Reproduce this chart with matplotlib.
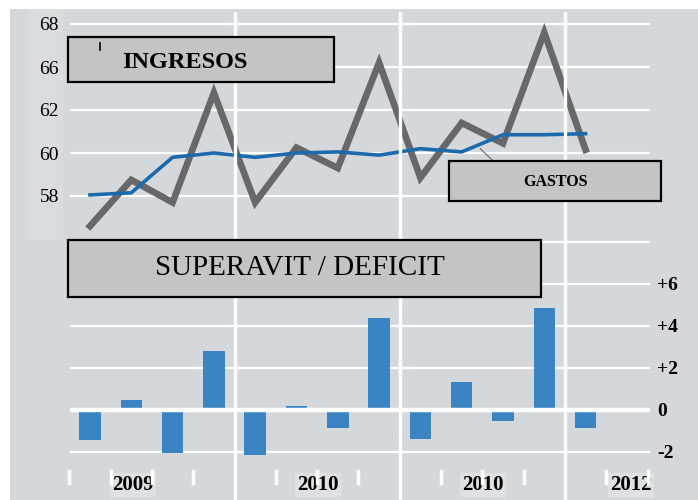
import numpy as np
import matplotlib
matplotlib.use("Agg")
import matplotlib.pyplot as plt
from matplotlib.patches import Rectangle
from matplotlib.lines import Line2D
from matplotlib.transforms import blended_transform_factory

# ---- data ----
quarters = np.arange(13)
ingresos = [56.6, 58.75, 57.7, 62.8, 57.7, 60.25, 59.3, 64.2, 58.85, 61.4, 60.45, 65.6, 60.15]
gastos = [58.05, 58.15, 59.8, 60.0, 59.8, 60.0, 60.05, 59.9, 60.2, 60.05, 60.85, 60.85, 60.9]
saldo = [-1.45, 0.5, -2.05, 2.8, -2.15, 0.2, -0.85, 4.4, -1.4, 1.35, -0.5, 4.85, -0.85]
top_ticks = [58, 60, 62, 64, 66]
top_ticklabels = ["58", "60", "62", "66", "68"]
bot_ticks = [-2, 0, 2, 4, 6]
bot_ticklabels = ["-2", "0", "+2", "+4", "+6"]
year_labels = ["2009", "2010", "2010", "2012"]
year_pos = [1.04, 5.52, 9.52, 13.1]
year_breaks = [3.5, 7.5, 11.5]

W, H = 698, 500
fig = plt.figure(figsize=(W / 100, H / 100), dpi=100)
fig.patch.set_facecolor("white")

def fx(px):
    return px / W

def fy(py):
    return 1 - py / H

BG = "#d5d8db"
SERIF = "Liberation Serif"

# background
fig.add_artist(Rectangle((fx(10), 0), fx(W - 10), fy(9), transform=fig.transFigure,
                         facecolor=BG, edgecolor="none", zorder=0))
fig.add_artist(Rectangle((fx(28), fy(240)), fx(35), (240 - 9) / H, transform=fig.transFigure,
                         facecolor="#d9dbdd", edgecolor="none", zorder=0))

xlim = (-0.484, 13.56)
# top axes: pixels x 70..650, y 13..240
ax1 = fig.add_axes([fx(70), fy(240), fx(580), (240 - 13) / H])
ax2 = fig.add_axes([fx(70), fy(470), fx(580), (470 - 240) / H])
for ax in (ax1, ax2):
    ax.set_facecolor("none")
    ax.set_xlim(*xlim)
    for s in ax.spines.values():
        s.set_visible(False)
    ax.set_xticks([])
    ax.tick_params(length=0)
    ax.set_axisbelow(True)

ax1.set_ylim(58 - 44 / 21.5, 58 + 183 / 21.5)
ax1.set_yticks(top_ticks)
ax1.set_yticklabels(top_ticklabels, fontfamily=SERIF, fontsize=14)
ax1.tick_params(axis="y", pad=8)
ax1.grid(axis="y", color="white", lw=1.6)

ax2.set_ylim(-60 / 21, 170 / 21)
ax2.set_yticks(bot_ticks + [8])
ax2.set_yticklabels(bot_ticklabels + [""], fontfamily=SERIF, fontsize=14, fontweight="bold")
ax2.yaxis.tick_right()
ax2.tick_params(axis="y", pad=5, length=0)
ax2.grid(axis="y", color="white", lw=1.6)

# vertical year breaks spanning both panels
tr = blended_transform_factory(ax1.transData, fig.transFigure)
for xb in year_breaks:
    fig.add_artist(Line2D([xb, xb], [fy(500), fy(13)], transform=tr, color="white", lw=2.4, zorder=1))

# short white ticks at bottom
for xb in np.arange(-0.5, 13.6, 1.0):
    if xb in year_breaks:
        continue
    fig.add_artist(Line2D([xb, xb], [fy(483), fy(471)], transform=tr, color="white", lw=2.5, zorder=1))

# lines
ax1.plot(quarters, ingresos, color="#68686a", lw=4.8, solid_joinstyle="miter", zorder=3)
ax1.plot(quarters, gastos, color="#1b6aab", lw=2.6, zorder=4)
# leader line for GASTOS
ax1.add_line(Line2D([9.45, 9.75], [60.2, 59.65], color="#666666", lw=0.8, zorder=3))

# bars
ax2.bar(quarters, saldo, width=0.52, color="#3a84c4", zorder=3)
ax2.axhline(0, color="white", lw=3.2, zorder=4)

# annotation boxes
def box(x0, y0, x1, y1):
    fig.add_artist(Rectangle((fx(x0), fy(y1)), fx(x1 - x0), (y1 - y0) / H, transform=fig.transFigure,
                             facecolor="#c4c4c4", edgecolor="black", lw=1.6, zorder=6))

box(68, 37, 334, 82)
fig.text(fx(122), fy(63), "INGRESOS", family=SERIF, fontweight="bold", fontsize=17.5,
         ha="left", va="center", zorder=7)
fig.add_artist(Line2D([fx(100), fx(100)], [fy(50), fy(43)], transform=fig.transFigure,
                      color="black", lw=1.2, zorder=7))

box(449, 161, 661, 201)
fig.text(fx(555), fy(182), "GASTOS", family=SERIF, fontweight="bold", fontsize=11.5,
         ha="center", va="center", zorder=7)

box(68, 240, 541, 297)
fig.text(fx(300), fy(268), "SUPERAVIT / DEFICIT", family=SERIF, fontsize=21,
         ha="center", va="center", zorder=7)

# year labels
for lbl, xp in zip(year_labels, year_pos):
    ax2.text(xp, fy(490), lbl, transform=tr, family=SERIF, fontweight="bold", fontsize=15,
             ha="center", va="baseline", zorder=8,
             bbox=dict(facecolor="#dfe0e2", edgecolor="none", pad=1.5))

fig.savefig("out.png", dpi=100)
